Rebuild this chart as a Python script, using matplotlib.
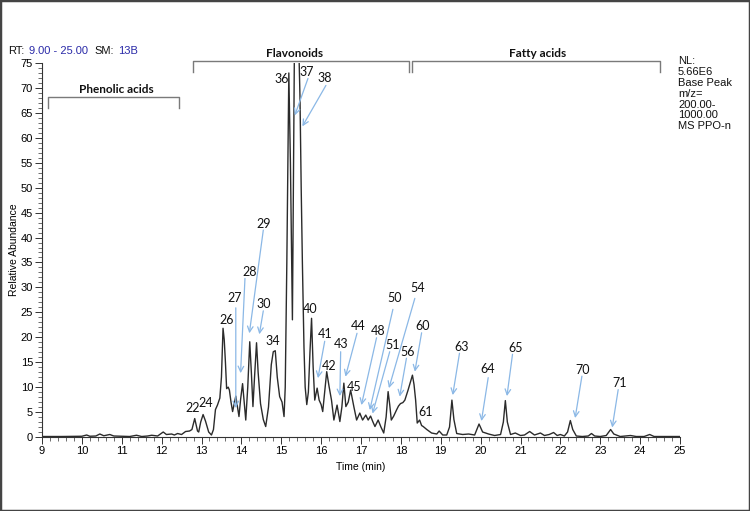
import matplotlib
matplotlib.use("Agg")
import matplotlib.pyplot as plt
from matplotlib.patches import Rectangle
from matplotlib.ticker import MultipleLocator

# --- chromatogram trace (time in min, relative abundance) ---
rt = [9.00, 9.50, 10.00, 10.12, 10.20, 10.35, 10.45, 10.55, 10.70, 10.80,
      11.00, 11.20, 11.37, 11.50, 11.65, 11.75, 11.90, 12.04, 12.12, 12.25,
      12.32, 12.40, 12.50, 12.60, 12.70, 12.76, 12.83, 12.90, 12.93, 12.98,
      13.04, 13.10, 13.18, 13.25, 13.30, 13.35, 13.40, 13.46, 13.50, 13.54,
      13.57, 13.60, 13.63, 13.67, 13.70, 13.74, 13.78, 13.86, 13.94, 13.98,
      14.03, 14.07, 14.11, 14.16, 14.21, 14.25, 14.29, 14.33, 14.38, 14.42,
      14.48, 14.55, 14.61, 14.68, 14.75, 14.80, 14.85, 14.90, 14.96, 15.02,
      15.07, 15.10, 15.14, 15.19, 15.23, 15.26, 15.28, 15.30, 15.33, 15.38,
      15.43, 15.47, 15.50, 15.53, 15.57, 15.60, 15.64, 15.68, 15.72, 15.76,
      15.80, 15.84, 15.90, 15.95, 16.00, 16.04, 16.09, 16.14, 16.20, 16.26,
      16.32, 16.40, 16.47, 16.52, 16.57, 16.62, 16.68, 16.74, 16.82, 16.89,
      16.97, 17.04, 17.12, 17.18, 17.24, 17.30, 17.35, 17.43, 17.50, 17.57,
      17.63, 17.68, 17.72, 17.76, 17.82, 17.89, 17.94, 17.99, 18.05, 18.10,
      18.18, 18.24, 18.29, 18.33, 18.37, 18.41, 18.47, 18.52, 18.56, 18.65,
      18.77, 18.90, 18.96, 19.05, 19.15, 19.22, 19.28, 19.33, 19.40, 19.55,
      19.70, 19.85, 19.96, 20.05, 20.20, 20.35, 20.50, 20.57, 20.62, 20.67,
      20.75, 20.87, 21.00, 21.10, 21.23, 21.35, 21.50, 21.60, 21.72, 21.83,
      21.92, 22.00, 22.10, 22.18, 22.25, 22.31, 22.40, 22.55, 22.70, 22.78,
      22.86, 23.00, 23.15, 23.26, 23.34, 23.50, 23.76, 23.90, 24.10, 24.24,
      24.35, 24.60, 25.00]
abundance = [0.1, 0.1, 0.15, 0.4, 0.15, 0.2, 0.6, 0.25, 0.5, 0.2,
             0.15, 0.1, 0.35, 0.1, 0.2, 0.35, 0.2, 1.0, 0.5, 0.6,
             0.4, 0.7, 0.5, 1.1, 1.2, 1.5, 3.7, 1.2, 1.0, 3.0,
             4.5, 3.2, 1.0, 0.4, 1.5, 5.5, 6.4, 7.8, 12.0, 21.8,
             19.5, 15.0, 9.7, 10.0, 9.4, 7.0, 5.1, 8.2, 4.1, 7.5,
             10.7, 7.0, 3.4, 10.0, 19.1, 13.0, 6.1, 12.0, 18.9, 13.0,
             6.7, 3.5, 2.1, 6.0, 14.5, 17.1, 17.3, 12.0, 8.1, 7.0,
             4.1, 10.0, 35.0, 73.0, 55.0, 35.0, 23.5, 45.0, 78.0, 95.0,
             82.0, 68.0, 50.0, 35.0, 18.0, 10.0, 6.5, 9.0, 17.0, 23.8,
             14.0, 7.4, 9.8, 7.4, 6.5, 5.1, 9.0, 13.1, 10.1, 7.4,
             3.4, 6.4, 3.1, 6.0, 10.8, 6.1, 7.0, 9.4, 6.1, 3.4,
             4.8, 3.4, 4.4, 3.4, 4.2, 3.0, 2.1, 3.4, 2.0, 0.8,
             4.0, 9.1, 6.5, 3.4, 4.2, 5.4, 6.2, 6.7, 6.9, 7.4,
             9.4, 11.0, 12.4, 10.5, 7.4, 2.8, 3.4, 2.3, 2.1, 1.5,
             0.8, 0.6, 1.2, 0.4, 0.4, 2.0, 7.4, 3.5, 0.7, 0.5,
             0.6, 0.4, 2.6, 1.0, 0.6, 0.3, 0.5, 3.0, 7.3, 3.0,
             0.5, 0.8, 0.3, 0.4, 1.1, 0.4, 0.8, 0.3, 0.5, 0.9,
             0.3, 0.5, 0.2, 1.0, 3.3, 1.5, 0.2, 0.1, 0.2, 0.7,
             0.2, 0.1, 0.3, 1.5, 0.6, 0.1, 0.3, 0.1, 0.1, 0.5,
             0.1, 0.1, 0.1]

# peak numbers printed without an arrow: (label, time, abundance)
plain_labels = ["22", "24", "26", "34", "36", "40", "42", "45", "61"]
plain_pos = [(12.77, 5.9), (13.10, 6.9), (13.63, 23.4), (14.80, 19.2),
             (15.01, 71.7), (15.73, 25.6), (16.20, 14.2), (16.82, 10.1),
             (18.62, 5.1)]

# peak numbers with a pointer arrow: label position, arrow start, arrow tip
arrow_labels = ["27", "28", "29", "30", "37", "38", "41", "43", "44", "48",
                "50", "51", "54", "56", "60", "63", "64", "65", "70", "71"]
arrow_text = [(13.84, 27.8), (14.20, 33.1), (14.55, 42.8), (14.55, 26.7),
              (15.63, 73.1), (16.09, 71.9), (16.11, 20.6), (16.49, 18.6),
              (16.94, 22.2), (17.43, 21.3), (17.83, 27.9), (17.80, 18.4),
              (18.42, 29.8), (18.18, 17.1), (18.54, 22.2), (19.53, 18.1),
              (20.17, 13.6), (20.87, 17.8), (22.55, 13.4), (23.49, 10.9)]
arrow_start = [(13.86, 25.9), (14.09, 31.8), (14.55, 41.5), (14.55, 25.3),
               (15.67, 71.9), (16.12, 70.5), (16.09, 19.2), (16.49, 17.1),
               (16.90, 20.8), (17.39, 19.9), (17.80, 25.6), (17.72, 17.1),
               (18.35, 27.8), (18.14, 15.8), (18.52, 20.9), (19.47, 16.8),
               (20.19, 11.9), (20.80, 16.6), (22.54, 12.2), (23.45, 9.5)]
arrow_tip = [(13.86, 5.8), (13.98, 12.8), (14.20, 20.8), (14.45, 20.6),
             (15.34, 64.5), (15.53, 62.3), (15.92, 11.8), (16.47, 8.2),
             (16.61, 12.1), (17.01, 6.4), (17.22, 5.4), (17.29, 4.7),
             (17.70, 9.8), (17.97, 8.1), (18.35, 13.1), (19.30, 8.4),
             (20.02, 3.2), (20.66, 8.2), (22.37, 3.8), (23.30, 1.9)]

# compound class brackets
class_names = ["Phenolic acids", "Flavonoids", "Fatty acids"]
class_span = [(9.14, 12.43), (12.79, 18.21), (18.28, 24.49)]
class_level = [68.2, 75.4, 75.4]
class_text_x = [10.87, 15.34, 21.43]

info_lines = ["NL:", "5.66E6", "Base Peak", "m/z=", "200.00-", "1000.00", "MS PPO-n"]

W, H = 750, 511
fig = plt.figure(figsize=(W / 100, H / 100), dpi=100)
ax = fig.add_axes([42 / W, 1 - 437 / H, (680 - 42) / W, (437 - 63) / H])

ax.plot(rt, abundance, color="#2b2b2b", lw=1.0)
ax.set_xlim(9, 25)
ax.set_ylim(0, 75)

for s in ("top", "right"):
    ax.spines[s].set_visible(False)
for s in ("left", "bottom"):
    ax.spines[s].set_color("#333333")
    ax.spines[s].set_linewidth(0.8)

ax.xaxis.set_major_locator(MultipleLocator(1))
ax.xaxis.set_minor_locator(MultipleLocator(0.2))
ax.yaxis.set_major_locator(MultipleLocator(5))
ax.yaxis.set_minor_locator(MultipleLocator(1))
ax.tick_params(which="major", length=5, width=0.7, color="#333333",
               labelsize=8, pad=1.5)
ax.tick_params(which="minor", length=3, width=0.6, color="#555555")
for lab in ax.get_xticklabels() + ax.get_yticklabels():
    lab.set_family("Liberation Sans")

ax.set_xlabel("Time (min)", fontsize=7.5, family="Liberation Sans", labelpad=4)
ax.set_ylabel("Relative Abundance", fontsize=7.5, family="Liberation Sans", labelpad=1)

num_font = dict(fontsize=9, family="Lato", color="#111111", ha="center", va="center")
for lab, (x, y) in zip(plain_labels, plain_pos):
    ax.text(x, y, lab, clip_on=False, **num_font)

arrow_col = "#8bb8e6"
for lab, txt, a0, a1 in zip(arrow_labels, arrow_text, arrow_start, arrow_tip):
    ax.text(txt[0], txt[1], lab, clip_on=False, **num_font)
    ax.annotate("", xy=a1, xytext=a0,
                arrowprops=dict(arrowstyle="->", color=arrow_col, lw=0.9,
                                shrinkA=0, shrinkB=0, mutation_scale=10))

# brackets
br_col = "#7a7a7a"
tail = 2.2
for name, (x0, x1), lvl, tx in zip(class_names, class_span, class_level, class_text_x):
    ax.plot([x0, x0, x1, x1], [lvl - tail, lvl, lvl, lvl - tail],
            color=br_col, lw=1.0, clip_on=False, solid_joinstyle="round")
    ax.text(tx, lvl + 0.35, name, fontsize=8.5, family="Lato", weight="bold",
            color="#111111", ha="center", va="bottom", clip_on=False)

# header text
def fx(px):
    return px / W

def fy(py):
    return 1 - py / H

hdr = dict(fontsize=8, family="Liberation Sans", va="center")
fig.text(fx(8), fy(51), "RT:", color="#111111", **hdr)
fig.text(fx(29), fy(51), "9.00 - 25.00", color="#2a2aa8", **hdr)
fig.text(fx(94), fy(51), "SM:", color="#111111", **hdr)
fig.text(fx(118), fy(51), "13B", color="#2a2aa8", **hdr)

for i, line in enumerate(info_lines):
    fig.text(fx(678), fy(61 + i * 10.9), line, color="#111111", **hdr)

fig.patches.append(Rectangle((0, 0), 1, 1, transform=fig.transFigure, fill=False,
                             edgecolor="#444444", lw=2.5))

fig.savefig("out.png", dpi=100)
